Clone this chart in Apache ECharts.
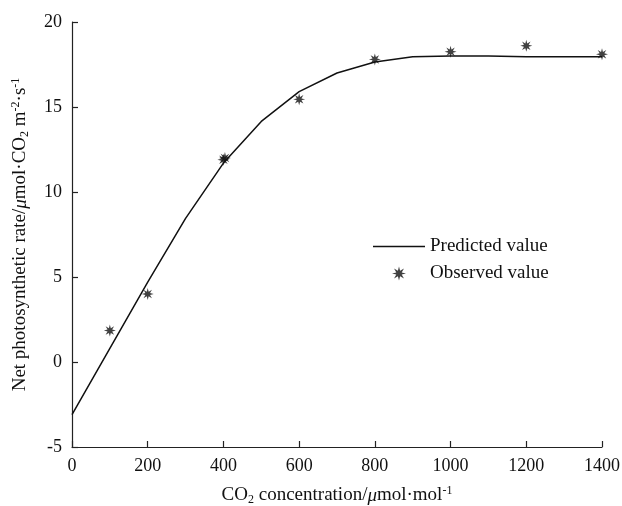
<!DOCTYPE html>
<html>
<head>
<meta charset="utf-8">
<script src="https://cdn.jsdelivr.net/npm/echarts@6/dist/echarts.min.js"></script>
<style>
  html, body { margin: 0; padding: 0; background: #fff; }
  #chart { width: 622px; height: 506px; }
</style>
</head>
<body>
<div id="chart"></div>
<script>
// Predicted curve (model output)
const predX = [0, 100, 200, 300, 400, 500, 600, 700, 800, 900, 1000, 1100, 1200, 1300, 1400];
const predY = [-3.1, 0.8, 4.7, 8.45, 11.7, 14.15, 15.9, 17.0, 17.65, 17.95, 18.0, 18.0, 17.95, 17.95, 17.95];

// Observed values
const obsX = [100, 200, 400, 404, 600, 800, 1000, 1200, 1400];
const obsY = [1.85, 4.0, 11.9, 12.0, 15.45, 17.8, 18.25, 18.6, 18.1];

const FONT = '"Liberation Serif", "Times New Roman", serif';

// 8-pointed asterisk-like star for the observed markers
function starPath(n, rOut, rIn) {
  let d = '';
  for (let i = 0; i < n * 2; i++) {
    const r = i % 2 === 0 ? rOut : rIn;
    const a = Math.PI * i / n - Math.PI / 2;
    d += (i === 0 ? 'M' : 'L') + (r * Math.cos(a)).toFixed(3) + ' ' + (r * Math.sin(a)).toFixed(3);
  }
  return 'path://' + d + 'Z';
}
const starSymbol = starPath(8, 10, 4.2);

const chart = echarts.init(document.getElementById('chart'));

const richText = {
  n: { fontFamily: FONT, fontSize: 19, color: '#111' },
  i: { fontFamily: FONT, fontSize: 19, fontStyle: 'italic', color: '#111' },
  sub: { fontFamily: FONT, fontSize: 12, color: '#111', padding: [9, 0, 0, 0] },
  sup: { fontFamily: FONT, fontSize: 12, color: '#111', padding: [0, 0, 9, 0] }
};

chart.setOption({
  animation: false,
  backgroundColor: '#fff',
  grid: { left: 72, right: 20, top: 22, bottom: 59, outerBoundsMode: 'none' },
  legend: {
    orient: 'vertical',
    left: 368,
    top: 232,
    itemWidth: 52,
    itemHeight: 14,
    itemGap: 8,
    textStyle: { fontFamily: FONT, fontSize: 19, color: '#111' },
    data: [
      { name: 'Predicted value', icon: 'path://M0 0L52 0L52 1.5L0 1.5Z' },
      { name: 'Observed value' }
    ]
  },
  xAxis: {
    type: 'value',
    min: 0,
    max: 1400,
    interval: 200,
    name: '{n|CO}{sub|2}{n| concentration/}{i|μ}{n|mol·mol}{sup|-1}',
    nameLocation: 'middle',
    nameGap: 38,
    nameTextStyle: { rich: richText },
    axisLine: { onZero: false, lineStyle: { color: '#222', width: 1.2 } },
    axisTick: { inside: true, length: 6, lineStyle: { color: '#222', width: 1.2 } },
    axisLabel: { fontFamily: FONT, fontSize: 18, color: '#111', margin: 10, formatter: v => String(v) },
    splitLine: { show: false }
  },
  yAxis: {
    type: 'value',
    min: -5,
    max: 20,
    interval: 5,
    name: '{n|Net photosynthetic rate/}{i|μ}{n|mol·CO}{sub|2}{n| m}{sup|-2}{n|·s}{sup|-1}',
    nameLocation: 'middle',
    nameGap: 41,
    nameTextStyle: { rich: richText },
    axisLine: { show: true, onZero: false, lineStyle: { color: '#222', width: 1.2 } },
    axisTick: { show: true, inside: true, length: 6, lineStyle: { color: '#222', width: 1.2 } },
    axisLabel: { fontFamily: FONT, fontSize: 18, color: '#111', margin: 10, formatter: v => String(v) },
    splitLine: { show: false }
  },
  series: [
    {
      name: 'Predicted value',
      type: 'line',
      data: predX.map((x, i) => [x, predY[i]]),
      showSymbol: false,
      symbol: 'none',
      lineStyle: { color: '#111', width: 1.5 },
      itemStyle: { color: '#111' }
    },
    {
      name: 'Observed value',
      type: 'scatter',
      data: obsX.map((x, i) => [x, obsY[i]]),
      symbol: starSymbol,
      symbolSize: 12,
      itemStyle: { color: '#111' }
    }
  ]
});
</script>
</body>
</html>
